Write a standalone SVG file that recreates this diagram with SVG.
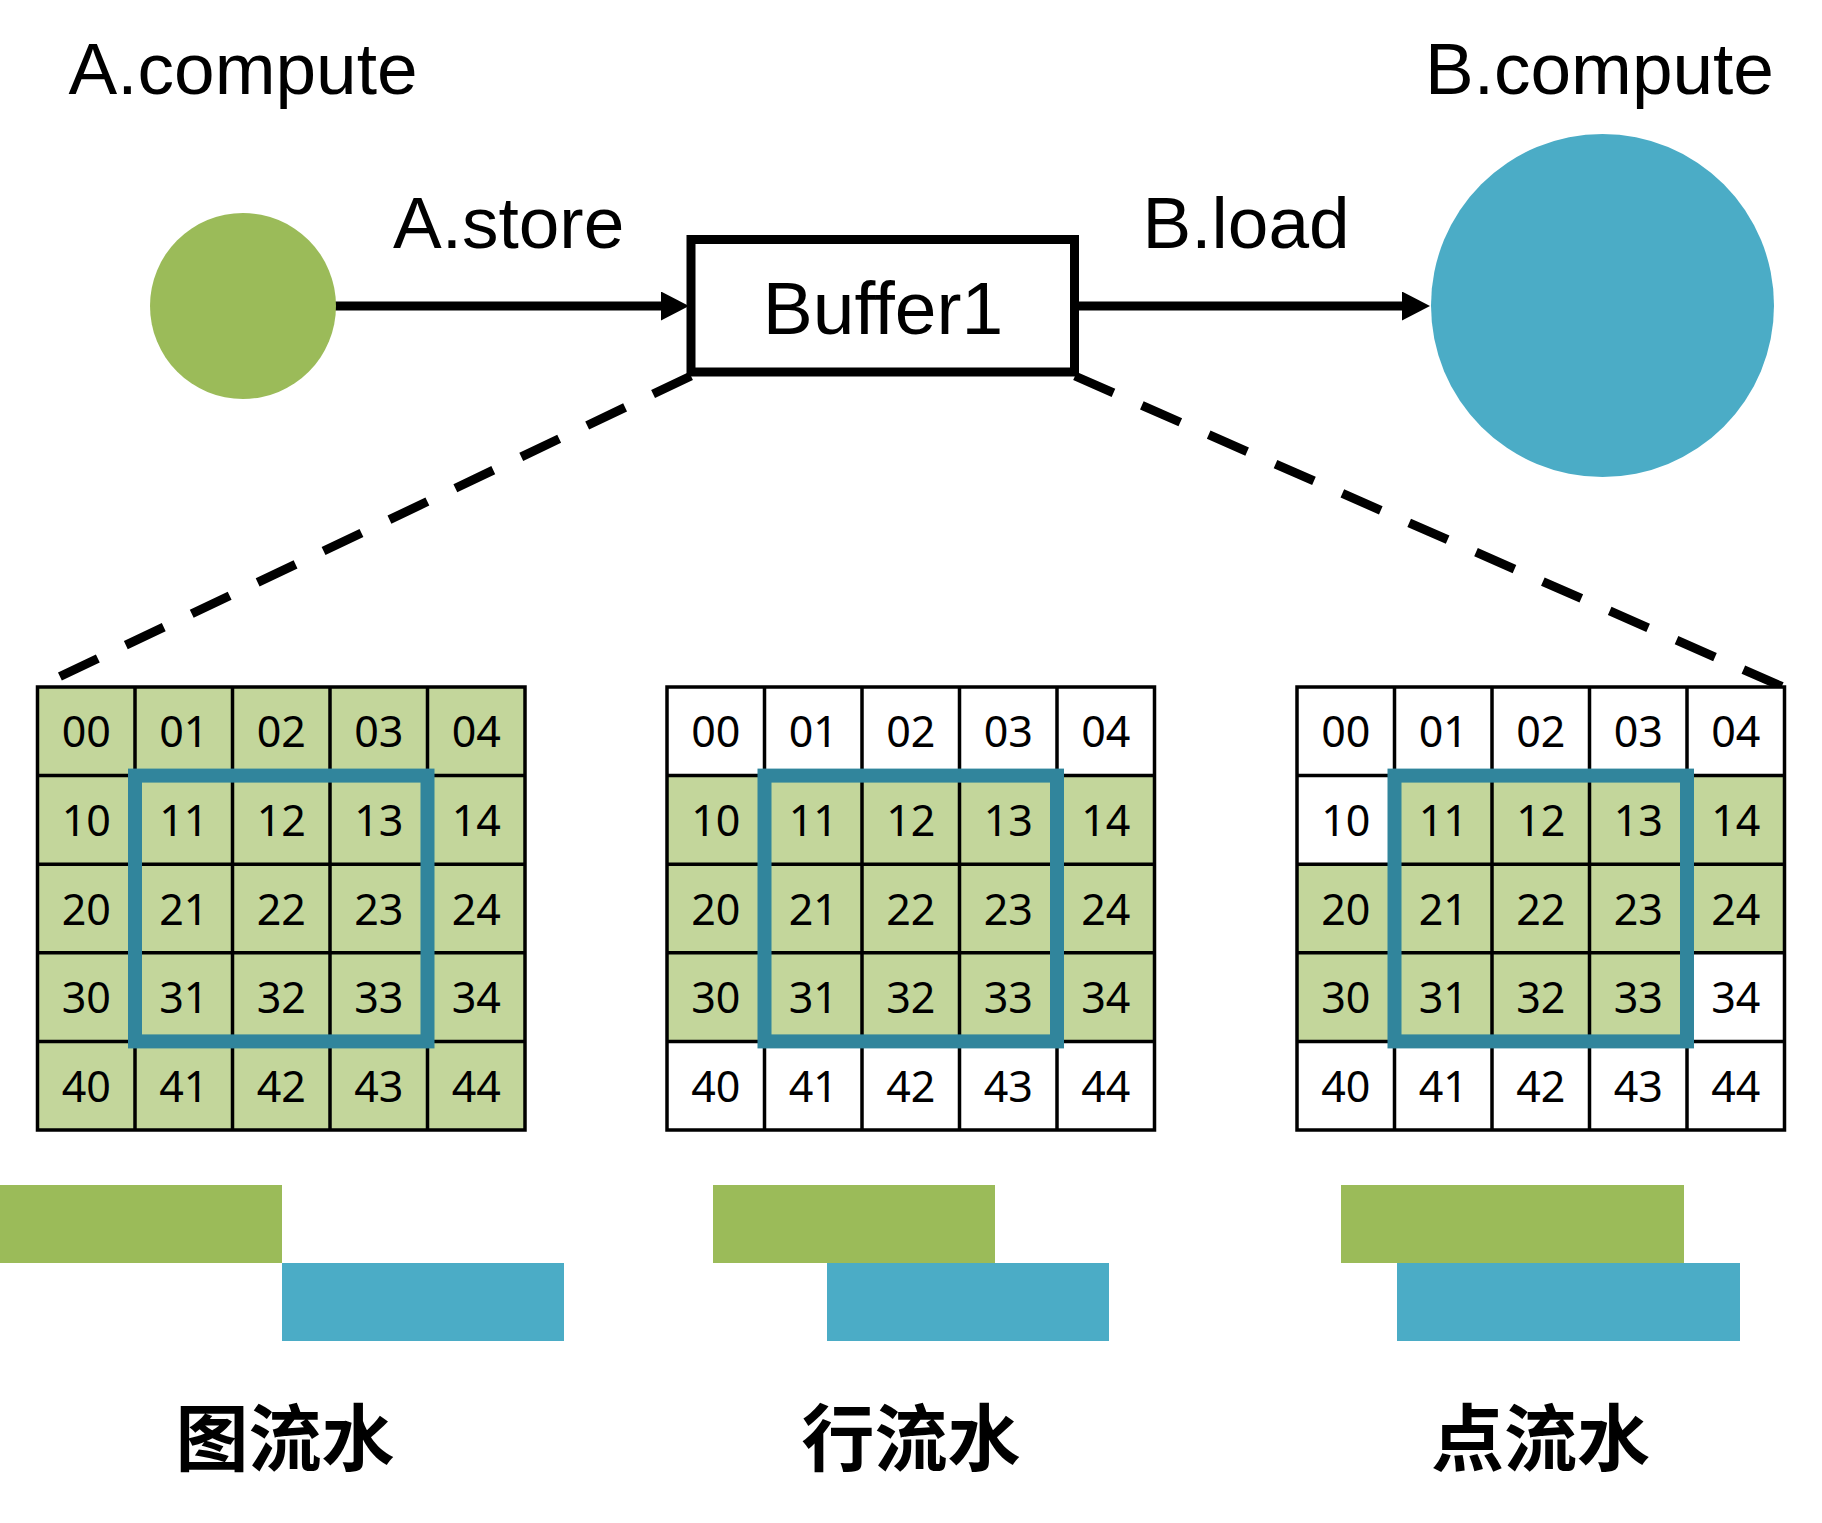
<svg xmlns="http://www.w3.org/2000/svg" xmlns:xlink="http://www.w3.org/1999/xlink" width="1822" height="1523" viewBox="0 0 1822 1523">
<style>
.lbl{font-family:"Liberation Sans",Arial,sans-serif;font-size:73px;fill:#000}
.c{font-family:"Noto Sans","Open Sans",sans-serif;font-size:43px;fill:#000;text-anchor:middle}
.cn{font-family:"Noto Sans CJK SC","Noto Sans",sans-serif;font-size:73px;font-weight:bold;fill:#000;text-anchor:middle}
.gl{fill:none;stroke:#000;stroke-width:3.5;stroke-linecap:square}
.frame{fill:none;stroke:#31859C;stroke-width:14}
.dash{fill:none;stroke:#000;stroke-width:9;stroke-dasharray:42 31}
.arr{fill:none;stroke:#000;stroke-width:9}
.g{fill:#C3D69B}
</style>
<defs>
<marker id="ah" markerUnits="userSpaceOnUse" markerWidth="30" markerHeight="30" viewBox="0 0 30 30" refX="0" refY="14.5" orient="auto">
<path d="M0,0 L28,14.5 L0,29 Z" fill="#000"/>
</marker>
<path id="grid" class="gl" d="M0 0V443M97.5 0V443M195 0V443M292.5 0V443M390 0V443M487.5 0V443M0 0H487.5M0 88.6H487.5M0 177.2H487.5M0 265.8H487.5M0 354.4H487.5M0 443H487.5"/>
</defs>
<rect width="1822" height="1523" fill="#fff"/>

<g id="labels">
<text class="lbl" x="68.6" y="94">A.compute</text>
<text class="lbl" x="1425" y="94">B.compute</text>
</g>

<g id="connectors">
<line class="arr" x1="335" y1="306" x2="661" y2="306" marker-end="url(#ah)"/>
<text class="lbl" x="393" y="248">A.store</text>
<line class="arr" x1="1079" y1="306" x2="1402" y2="306" marker-end="url(#ah)"/>
<text class="lbl" x="1142.6" y="248">B.load</text>
<line class="dash" x1="691" y1="376" x2="38" y2="687"/>
<line class="dash" x1="1075" y1="376" x2="1783" y2="687"/>
</g>

<g id="node-A">
<circle cx="243" cy="306" r="93" fill="#9BBB59"/>
</g>
<g id="node-B">
<circle cx="1602.5" cy="305.5" r="171.5" fill="#4BACC6"/>
</g>
<g id="node-buffer">
<rect x="691" y="239.5" width="383.5" height="132.5" fill="#fff" stroke="#000" stroke-width="9"/>
<text class="lbl" x="883" y="334" style="font-size:75px;text-anchor:middle">Buffer1</text>
</g>

<g id="grid-left">
<rect class="g" x="37.5" y="687" width="487.5" height="443"/>
<use xlink:href="#grid" x="37.5" y="687"/>
<rect class="frame" x="135" y="775.6" width="292.5" height="265.8"/>
<text class="c" x="86.25" y="747.3">00</text><text class="c" x="183.75" y="747.3">01</text><text class="c" x="281.25" y="747.3">02</text><text class="c" x="378.75" y="747.3">03</text><text class="c" x="476.25" y="747.3">04</text>
<text class="c" x="86.25" y="835.9">10</text><text class="c" x="183.75" y="835.9">11</text><text class="c" x="281.25" y="835.9">12</text><text class="c" x="378.75" y="835.9">13</text><text class="c" x="476.25" y="835.9">14</text>
<text class="c" x="86.25" y="924.5">20</text><text class="c" x="183.75" y="924.5">21</text><text class="c" x="281.25" y="924.5">22</text><text class="c" x="378.75" y="924.5">23</text><text class="c" x="476.25" y="924.5">24</text>
<text class="c" x="86.25" y="1013.1">30</text><text class="c" x="183.75" y="1013.1">31</text><text class="c" x="281.25" y="1013.1">32</text><text class="c" x="378.75" y="1013.1">33</text><text class="c" x="476.25" y="1013.1">34</text>
<text class="c" x="86.25" y="1101.7">40</text><text class="c" x="183.75" y="1101.7">41</text><text class="c" x="281.25" y="1101.7">42</text><text class="c" x="378.75" y="1101.7">43</text><text class="c" x="476.25" y="1101.7">44</text>
</g>

<g id="grid-middle">
<rect x="667" y="687" width="487.5" height="443" fill="#fff"/>
<rect class="g" x="667" y="775.6" width="487.5" height="265.8"/>
<use xlink:href="#grid" x="667" y="687"/>
<rect class="frame" x="764.5" y="775.6" width="292.5" height="265.8"/>
<text class="c" x="715.75" y="747.3">00</text><text class="c" x="813.25" y="747.3">01</text><text class="c" x="910.75" y="747.3">02</text><text class="c" x="1008.25" y="747.3">03</text><text class="c" x="1105.75" y="747.3">04</text>
<text class="c" x="715.75" y="835.9">10</text><text class="c" x="813.25" y="835.9">11</text><text class="c" x="910.75" y="835.9">12</text><text class="c" x="1008.25" y="835.9">13</text><text class="c" x="1105.75" y="835.9">14</text>
<text class="c" x="715.75" y="924.5">20</text><text class="c" x="813.25" y="924.5">21</text><text class="c" x="910.75" y="924.5">22</text><text class="c" x="1008.25" y="924.5">23</text><text class="c" x="1105.75" y="924.5">24</text>
<text class="c" x="715.75" y="1013.1">30</text><text class="c" x="813.25" y="1013.1">31</text><text class="c" x="910.75" y="1013.1">32</text><text class="c" x="1008.25" y="1013.1">33</text><text class="c" x="1105.75" y="1013.1">34</text>
<text class="c" x="715.75" y="1101.7">40</text><text class="c" x="813.25" y="1101.7">41</text><text class="c" x="910.75" y="1101.7">42</text><text class="c" x="1008.25" y="1101.7">43</text><text class="c" x="1105.75" y="1101.7">44</text>
</g>

<g id="grid-right">
<rect x="1297" y="687" width="487.5" height="443" fill="#fff"/>
<rect class="g" x="1394.5" y="775.6" width="390" height="88.6"/>
<rect class="g" x="1297" y="864.2" width="487.5" height="88.6"/>
<rect class="g" x="1297" y="952.8" width="390" height="88.6"/>
<use xlink:href="#grid" x="1297" y="687"/>
<rect class="frame" x="1394.5" y="775.6" width="292.5" height="265.8"/>
<text class="c" x="1345.75" y="747.3">00</text><text class="c" x="1443.25" y="747.3">01</text><text class="c" x="1540.75" y="747.3">02</text><text class="c" x="1638.25" y="747.3">03</text><text class="c" x="1735.75" y="747.3">04</text>
<text class="c" x="1345.75" y="835.9">10</text><text class="c" x="1443.25" y="835.9">11</text><text class="c" x="1540.75" y="835.9">12</text><text class="c" x="1638.25" y="835.9">13</text><text class="c" x="1735.75" y="835.9">14</text>
<text class="c" x="1345.75" y="924.5">20</text><text class="c" x="1443.25" y="924.5">21</text><text class="c" x="1540.75" y="924.5">22</text><text class="c" x="1638.25" y="924.5">23</text><text class="c" x="1735.75" y="924.5">24</text>
<text class="c" x="1345.75" y="1013.1">30</text><text class="c" x="1443.25" y="1013.1">31</text><text class="c" x="1540.75" y="1013.1">32</text><text class="c" x="1638.25" y="1013.1">33</text><text class="c" x="1735.75" y="1013.1">34</text>
<text class="c" x="1345.75" y="1101.7">40</text><text class="c" x="1443.25" y="1101.7">41</text><text class="c" x="1540.75" y="1101.7">42</text><text class="c" x="1638.25" y="1101.7">43</text><text class="c" x="1735.75" y="1101.7">44</text>
</g>

<g id="timeline-left">
<rect x="0" y="1185" width="282" height="78" fill="#9BBB59"/>
<rect x="282" y="1263" width="282" height="78" fill="#4BACC6"/>
<text class="cn" x="285" y="1465">图流水</text>
</g>
<g id="timeline-middle">
<rect x="713" y="1185" width="282" height="78" fill="#9BBB59"/>
<rect x="827" y="1263" width="282" height="78" fill="#4BACC6"/>
<text class="cn" x="911" y="1465">行流水</text>
</g>
<g id="timeline-right">
<rect x="1341" y="1185" width="343" height="78" fill="#9BBB59"/>
<rect x="1397" y="1263" width="343" height="78" fill="#4BACC6"/>
<text class="cn" x="1540.5" y="1465">点流水</text>
</g>
</svg>
